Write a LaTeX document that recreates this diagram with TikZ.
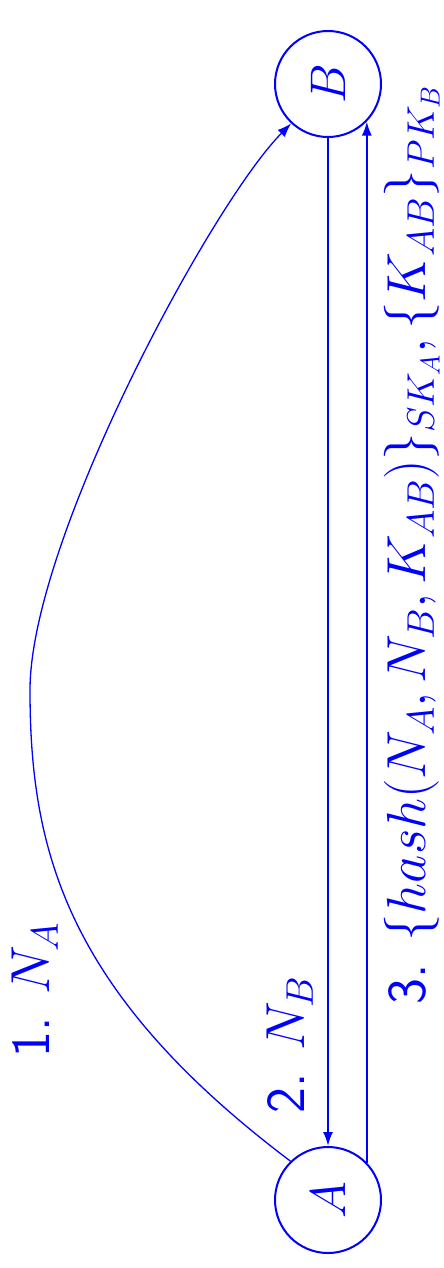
\RequirePackage{fix-cm}
\documentclass[tikz,border=0pt]{standalone}
\usetikzlibrary{arrows.meta}
\begin{document}
\begin{tikzpicture}[x=1pt,y=-1pt,
  st/.style={circle,draw=blue,line width=2pt,minimum size=106pt,inner sep=0pt,text=blue,font=\fontsize{50}{60}\selectfont},
  arr/.style={draw=blue,line width=2pt,-{Latex[length=14pt,width=10pt]}},
  carr/.style={draw=blue,line width=1.3pt,-{Latex[length=14pt,width=10pt]}},
  lbl/.style={rotate=90,text=blue,inner sep=0pt,font=\fontsize{55}{60}\selectfont\sffamily}]
\useasboundingbox (0,0) rectangle (444,1268);
\node[st] (B) at (328,84) {\rotatebox{90}{$B$}};
\node[st] (A) at (328,1200) {\rotatebox{90}{$A$}};
\coordinate (m) at (30,690);
\draw[carr] (A.134) .. controls (66,992) and (30,850) .. (m) .. controls (30,540) and (212,203) .. (B.227);
\draw[arr] (B) -- (A);
\draw[arr] (A.44) -- (B.-44);
\node[lbl] (l1) at (35,990) {1. $N_A$};
\node[lbl] (l2) at (290,1045) {2. $N_B$};
\node[lbl] (l3) at (412,545) {3. $\{hash(N_A, N_B, K_{AB})\}_{SK_A}, \{K_{AB}\}_{PK_B}$};
\end{tikzpicture}
\end{document}
